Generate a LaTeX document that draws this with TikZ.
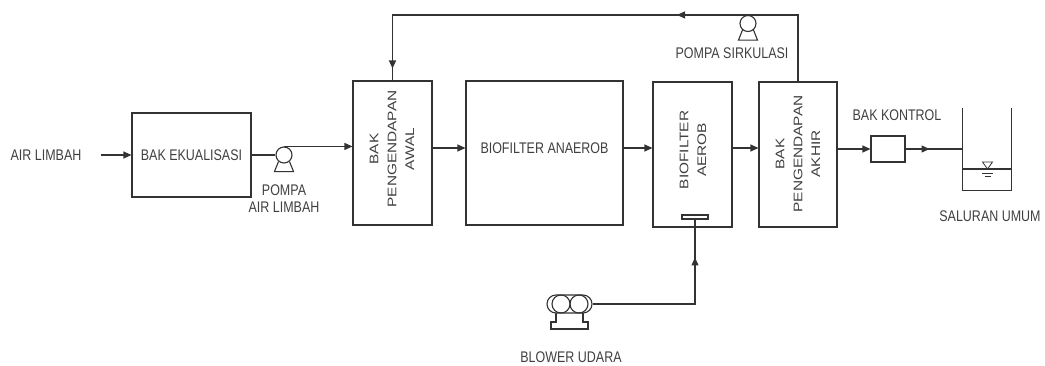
\documentclass[tikz,border=0pt]{standalone}
\usepackage{fontspec}
\setmainfont{Liberation Sans}[FakeStretch=0.81]
\newfontfamily\rotfont{Liberation Sans}
\usepackage{tikz}
\usetikzlibrary{arrows.meta}
\usetikzlibrary{decorations.markings}
\usetikzlibrary{calc}
\tikzset{lbl/.style={font=\fontsize{15.4}{17}\selectfont, text=black!75}}
\tikzset{vlbl/.style={font=\rotfont\fontsize{15.4}{22}\selectfont, text=black!75, align=center, xscale=0.81, rotate=90}}
\tikzset{bak/.style={draw=black!80, line width=1.1pt, inner sep=0pt}}
\tikzset{pumphead/.style={circle, draw=black!80, line width=1.1pt, minimum size=16pt, inner sep=0pt}}
\tikzset{pipe/.style={black!80, line width=1.1pt}}
\tikzset{tip/.style={-{Triangle[length=8pt,width=7pt]}}}
\tikzset{arrowat/.style={postaction={decorate, decoration={markings, mark=at position #1 with {\arrow{Triangle[length=8pt,width=7pt]}}}}}}

\begin{document}
\begin{tikzpicture}[x=1pt,y=-1pt]
  \useasboundingbox (0,0) rectangle (1045,365);
  \coordinate (ln) at (0,148);
  % tanks
  \node[lbl, inner sep=0pt] (src) at (46,155) {AIR LIMBAH};
  \node[bak, lbl, minimum width=119pt, minimum height=84pt] (ekual) at (191.5,155) {BAK EKUALISASI};
  \node[pumphead] (pump1) at (284,155) {};
  \node[bak, minimum width=79pt, minimum height=144pt] (awal) at (392.5,153) {};
  \node[bak, minimum width=157pt, minimum height=144pt] (anaerob) at (544.5,153) {};
  \node[bak, minimum width=79pt, minimum height=145pt] (aerob) at (692.5,154.5) {};
  \node[bak, minimum width=78pt, minimum height=145pt] (akhir) at (798,154.5) {};
  \node[bak, minimum width=34pt, minimum height=26pt] (kontrol) at (888,149) {};
  \node[inner sep=0pt, minimum width=48pt, minimum height=82pt] (tank) at (987,149) {};
  \node[bak, minimum width=26pt, minimum height=4pt] (diff) at (695,217) {};
  \node[bak, minimum width=45pt, minimum height=18pt, rounded corners=9pt] (blower) at (569.5,304) {};
  \node[pumphead] (pump2) at (748,23.5) {};

  % texts
  \node[lbl] at (anaerob |- ln) {BIOFILTER ANAEROB};
  \node[vlbl] at (392,149) {BAK\\PENGENDAPAN\\AWAL};
  \node[vlbl] at (693,150) {BIOFILTER\\AEROB};
  \node[vlbl] at (798,154) {BAK\\PENGENDAPAN\\AKHIR};
  \node[lbl, align=center] at (284,199) {POMPA\\AIR LIMBAH};
  \node[lbl] at (732,53) {POMPA SIRKULASI};
  \node[lbl] at (897,115) {BAK KONTROL};
  \node[lbl] at (990,216) {SALURAN UMUM};
  \node[lbl] at (571,357) {BLOWER UDARA};

  % pumps and blower
  \draw[pipe] (pump1.-130) -- ++(-4,10) -- ($(pump1.-50)+(4,10)$) -- (pump1.-50);
  \draw[pipe] (pump2.-130) -- ++(-4,10) -- ($(pump2.-50)+(4,10)$) -- (pump2.-50);
  \draw[pipe] (561,304) circle[radius=9pt];
  \draw[pipe] (579,304) circle[radius=9pt];
  \draw[pipe] (556,313) -- (556,322) -- (551,322) -- (551,329) -- (588,329) -- (588,322) -- (583,322) -- (583,313);

  % saluran
  \draw[pipe] (tank.north west) -- (tank.south west) -- (tank.south east) -- (tank.north east);
  \draw[pipe] (tank.west |- 0,169) -- (tank.east |- 0,169);
  \draw[pipe, line width=0.8pt] (982.5,162) -- (992.5,162) -- (987.5,169) -- cycle;
  \draw[pipe, line width=0.8pt] (982,173) -- (993,173);
  \draw[pipe, line width=0.8pt] (984.5,176.5) -- (990.5,176.5);

  % flow
  \draw[pipe, tip] ([xshift=19pt]src.east) -- (ekual.west);
  \draw[pipe] (ekual.east) -- (pump1.west);
  \draw[pipe, tip] (pump1.north) -- (pump1.north -| awal.west);
  \draw[pipe, tip] (awal.east |- ln) -- (anaerob.west |- ln);
  \draw[pipe, tip] (anaerob.east |- ln) -- (aerob.west |- ln);
  \draw[pipe, tip] (aerob.east |- ln) -- (akhir.west |- ln);
  \draw[pipe, tip] (akhir.east |- kontrol.west) -- (kontrol.west);
  \draw[pipe, arrowat=24pt] (kontrol.east) -- (tank.west |- kontrol.east);
  \draw[pipe] (akhir.north) |- (pump2.north);
  \draw[pipe, arrowat=71pt, arrowat=409pt] (pump2.north) -| (awal.north);
  \draw[pipe, arrowat=149pt] (blower.east) -| (diff.south);
\end{tikzpicture}
\end{document}
